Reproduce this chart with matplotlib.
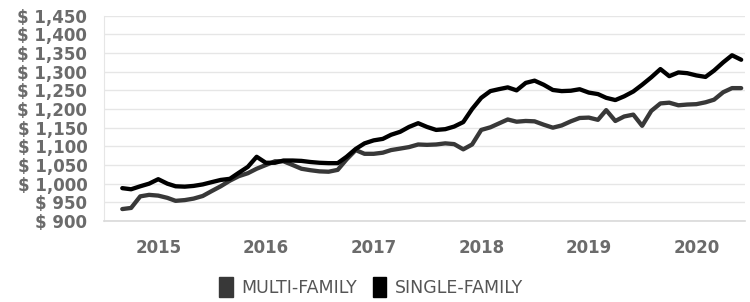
import pandas as pd
import matplotlib.pyplot as plt
import matplotlib.dates as mdates
from matplotlib.patches import Patch
from matplotlib.ticker import FuncFormatter

# monthly average rent, Sep 2014 - Jun 2020
months = pd.date_range('2014-09-01', periods=70, freq='MS')

multi_family = [
    932, 935, 966, 970, 968, 962, 954, 956, 960, 967,
    980, 993, 1008, 1020, 1028, 1040, 1050, 1060, 1060, 1050,
    1040, 1036, 1033, 1032, 1037, 1065, 1090, 1080, 1080, 1083,
    1090, 1094, 1098, 1105, 1104, 1105, 1108, 1106, 1092, 1105,
    1144, 1151, 1161, 1172, 1166, 1168, 1167, 1158, 1150, 1156,
    1167, 1176, 1177, 1171, 1197, 1168, 1180, 1185, 1155, 1195,
    1215, 1217, 1210, 1212, 1213, 1218, 1225, 1245, 1256, 1256,
]
single_family = [
    988, 985, 993, 1000, 1012, 1000, 993, 992, 994, 998,
    1004, 1010, 1013, 1029, 1045, 1072, 1056, 1056, 1062, 1062,
    1061, 1058, 1056, 1055, 1055, 1072, 1093, 1108, 1116, 1120,
    1131, 1139, 1152, 1162, 1152, 1144, 1146, 1153, 1165, 1200,
    1230, 1248, 1253, 1258, 1250, 1270, 1276, 1265, 1251, 1248,
    1249, 1253, 1244, 1240, 1230, 1224, 1234, 1247, 1265, 1285,
    1307, 1288, 1298, 1296, 1290, 1286, 1303, 1325, 1344, 1332,
]
series_names = ['MULTI-FAMILY', 'SINGLE-FAMILY']
series_colors = ['#383838', '#000000']

fig = plt.figure(figsize=(7.5, 3.02), dpi=100)
ax = fig.add_axes([104 / 750, 81 / 302, 641 / 750, 205.3 / 302])

ax.plot(months, multi_family, color=series_colors[0], lw=3.1, solid_capstyle='round', zorder=3)
ax.plot(months, single_family, color=series_colors[1], lw=3.1, solid_capstyle='round', zorder=4)

ax.set_ylim(900, 1450)
ax.set_yticks(range(900, 1451, 50))
ax.yaxis.set_major_formatter(FuncFormatter(lambda v, p: f'$ {int(v):,}'))
ax.set_xlim(pd.Timestamp('2014-07-01'), pd.Timestamp('2020-06-14'))
ax.xaxis.set_major_locator(mdates.YearLocator())
ax.xaxis.set_major_formatter(mdates.DateFormatter('%Y'))

ax.grid(axis='y', color='#e6e6e6', lw=1.0)
ax.set_axisbelow(True)
for s in ['top', 'right']:
    ax.spines[s].set_visible(False)
ax.spines['left'].set_color('#e6e6e6')
ax.spines['bottom'].set_color('#d9d9d9')
ax.spines['bottom'].set_linewidth(1.2)
ax.tick_params(axis='both', length=0, labelcolor='#6b6b6b', labelsize=12)
ax.tick_params(axis='y', pad=12)
ax.tick_params(axis='x', pad=13)
for lbl in ax.get_xticklabels() + ax.get_yticklabels():
    lbl.set_fontweight('bold')

handles = [Patch(facecolor=c, edgecolor=c) for c in series_colors]
fig.legend(handles, series_names, loc='center', bbox_to_anchor=(371 / 750, 15 / 302),
           ncol=2, frameon=False, fontsize=12.5, labelcolor='#555555',
           handlelength=0.8, handleheight=1.4, handletextpad=0.5, columnspacing=0.9)

fig.savefig('out.png', dpi=100)
